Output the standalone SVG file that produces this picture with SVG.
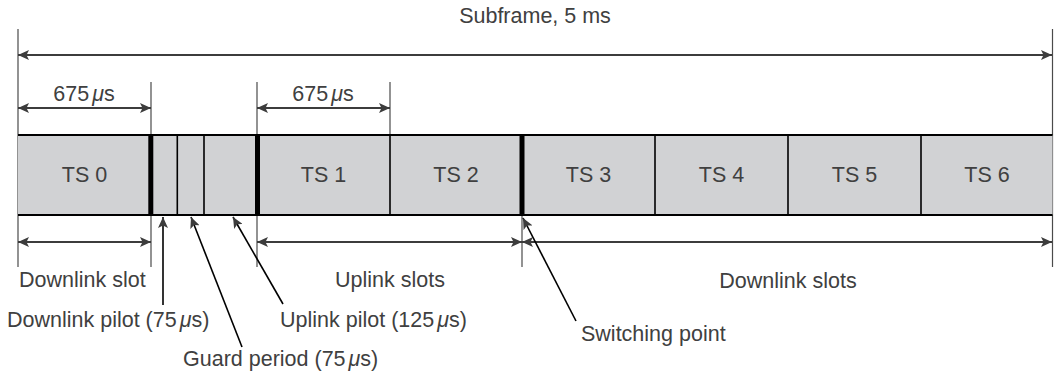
<svg xmlns="http://www.w3.org/2000/svg" width="1057" height="376" viewBox="0 0 1057 376">
  <style>
    text { font-family: "Liberation Sans", Arial, sans-serif; font-size: 21.5px; fill: #404040; }
    .mid { text-anchor: middle; }
    .mu { font-style: italic; }
    .slot { fill: #d1d2d4; stroke: none; }
    .edge { stroke: #000; stroke-width: 2; }
    .div { stroke: #000; stroke-width: 1.6; }
    .sep { stroke: #000; stroke-width: 5; }
    .tick { stroke: #4a4a4a; stroke-width: 1.2; }
    .dim { stroke: #3c3c3c; stroke-width: 2; fill: none; marker-start: url(#arrS); marker-end: url(#arrE); }
    .ptr { stroke: #000; stroke-width: 1.6; fill: none; marker-end: url(#arrP); }
  </style>
  <defs>
    <marker id="arrE" markerUnits="userSpaceOnUse" markerWidth="12" markerHeight="10" refX="11" refY="5" orient="auto">
      <path d="M0,0 L11,5 L0,10 L2.5,5 Z" fill="#3c3c3c"/>
    </marker>
    <marker id="arrS" markerUnits="userSpaceOnUse" markerWidth="12" markerHeight="10" refX="1" refY="5" orient="auto">
      <path d="M12,0 L1,5 L12,10 L9.5,5 Z" fill="#3c3c3c"/>
    </marker>
    <marker id="arrP" markerUnits="userSpaceOnUse" markerWidth="12" markerHeight="10" refX="11" refY="5" orient="auto">
      <path d="M0,0 L11,5 L0,10 L2.5,5 Z" fill="#3c3c3c"/>
    </marker>
  </defs>

  <!-- extension ticks -->
  <g id="ticks">
    <line class="tick" x1="18" y1="29" x2="18" y2="267"/>
    <line class="tick" x1="1052.5" y1="29" x2="1052.5" y2="267"/>
    <line class="tick" x1="151" y1="82" x2="151" y2="267"/>
    <line class="tick" x1="257" y1="82" x2="257" y2="267"/>
    <line class="tick" x1="390" y1="82" x2="390" y2="135"/>
    <line class="tick" x1="522" y1="215" x2="522" y2="267"/>
  </g>

  <!-- subframe bar -->
  <g id="subframe">
    <rect class="slot" x="18" y="135" width="1034.5" height="80"/>
    <line class="edge" x1="18" y1="135" x2="1052.5" y2="135"/>
    <line class="edge" x1="18" y1="215" x2="1052.5" y2="215"/>
  </g>
  <g id="ts0"><text class="mid" x="84.5" y="182">TS 0</text></g>
  <g id="special">
    <line class="sep" x1="150.8" y1="135" x2="150.8" y2="215"/>
    <line class="div" x1="177.3" y1="135" x2="177.3" y2="215"/>
    <line class="div" x1="204" y1="135" x2="204" y2="215"/>
    <line class="sep" x1="257.5" y1="135" x2="257.5" y2="215"/>
  </g>
  <g id="ts1"><text class="mid" x="323.5" y="182">TS 1</text></g>
  <g id="ts2">
    <line class="div" x1="390" y1="135" x2="390" y2="215"/>
    <text class="mid" x="456" y="182">TS 2</text>
  </g>
  <g id="ts3">
    <line class="sep" x1="522" y1="135" x2="522" y2="215"/>
    <text class="mid" x="588.5" y="182">TS 3</text>
  </g>
  <g id="ts4">
    <line class="div" x1="655" y1="135" x2="655" y2="215"/>
    <text class="mid" x="721.5" y="182">TS 4</text>
  </g>
  <g id="ts5">
    <line class="div" x1="788" y1="135" x2="788" y2="215"/>
    <text class="mid" x="854.5" y="182">TS 5</text>
  </g>
  <g id="ts6">
    <line class="div" x1="921" y1="135" x2="921" y2="215"/>
    <text class="mid" x="987" y="182">TS 6</text>
  </g>

  <!-- dimension arrows and pointers -->
  <g id="connectors">
    <line class="dim" x1="18" y1="55" x2="1052" y2="55"/>
    <line class="dim" x1="18" y1="108" x2="151" y2="108"/>
    <line class="dim" x1="257" y1="108" x2="390" y2="108"/>
    <line class="dim" x1="18" y1="242" x2="151" y2="242"/>
    <line class="dim" x1="257" y1="242" x2="522" y2="242"/>
    <line class="dim" x1="522" y1="242" x2="1052" y2="242"/>

    <line class="ptr" x1="163" y1="305" x2="163" y2="217"/>
    <line class="ptr" x1="242" y1="347" x2="191" y2="217"/>
    <line class="ptr" x1="283" y1="304" x2="233" y2="217"/>
    <line class="ptr" x1="576" y1="321" x2="523" y2="218"/>
  </g>

  <!-- labels -->
  <g id="labels">
    <text class="mid" x="535" y="23">Subframe, 5 ms</text>
    <text class="mid" x="84" y="101">675<tspan class="mu" dx="3">μ</tspan>s</text>
    <text class="mid" x="323" y="101">675<tspan class="mu" dx="3">μ</tspan>s</text>
    <text x="19" y="287">Downlink slot</text>
    <text class="mid" x="390" y="287">Uplink slots</text>
    <text class="mid" x="788" y="288">Downlink slots</text>
    <text x="7" y="327">Downlink pilot (75<tspan class="mu" dx="3">μ</tspan>s)</text>
    <text x="280" y="327">Uplink pilot (125<tspan class="mu" dx="3">μ</tspan>s)</text>
    <text x="183" y="366">Guard period (75<tspan class="mu" dx="3">μ</tspan>s)</text>
    <text x="581" y="341">Switching point</text>
  </g>
</svg>
